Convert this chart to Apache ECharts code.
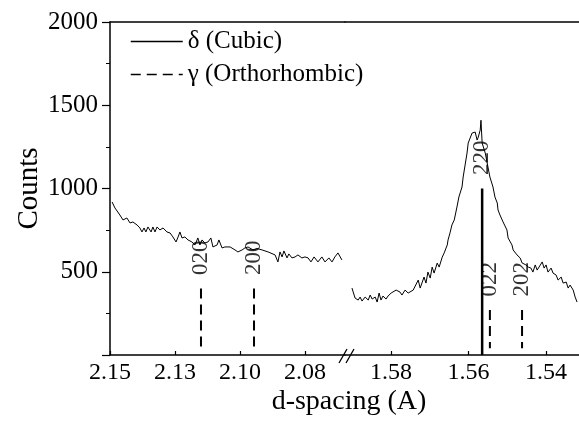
<!DOCTYPE html>
<html>
<head>
<meta charset="utf-8">
<script src="https://cdn.jsdelivr.net/npm/echarts@6/dist/echarts.min.js"></script>
<style>
  html, body { margin: 0; padding: 0; background: #fff; }
  #chart { width: 579px; height: 421px; }
</style>
</head>
<body>
<div id="chart"></div>
<script>
// left part of the broken axis (2.15 .. 2.06)
var leftD = [2.1492, 2.1481, 2.1462, 2.1450, 2.1435, 2.1423, 2.1412, 2.1396, 2.1385, 2.1377,
  2.1369, 2.1362, 2.1354, 2.1342, 2.1335, 2.1327, 2.1319, 2.1308, 2.1296, 2.1281,
  2.1269, 2.1258, 2.1246, 2.1238, 2.1231, 2.1223, 2.1212, 2.1200, 2.1185, 2.1173,
  2.1162, 2.1154, 2.1146, 2.1135, 2.1123, 2.1112, 2.1104, 2.1088, 2.1081, 2.1069,
  2.1058, 2.1046, 2.1038, 2.1019, 2.1008, 2.0992, 2.0981, 2.0969, 2.0950, 2.0935,
  2.0915, 2.0892, 2.0865, 2.0854, 2.0846, 2.0838, 2.0831, 2.0819, 2.0812, 2.0800,
  2.0788, 2.0777, 2.0762, 2.0750, 2.0738, 2.0727, 2.0715, 2.0700, 2.0685, 2.0673,
  2.0658, 2.0646, 2.0635, 2.0623, 2.0608];
var leftCounts = [919, 883, 841, 811, 823, 793, 799, 781, 763, 739,
  763, 739, 769, 739, 769, 739, 769, 751, 763, 739,
  733, 709, 679, 709, 739, 703, 709, 691, 679, 661,
  703, 661, 691, 673, 679, 703, 649, 661, 691, 643,
  649, 649, 649, 631, 619, 631, 643, 649, 631, 640,
  631, 619, 601, 559, 619, 589, 625, 583, 607, 583,
  589, 601, 583, 589, 583, 559, 589, 559, 589, 559,
  583, 559, 589, 613, 571];

// right part of the broken axis (1.59 .. 1.53)
var rightD = [1.5901, 1.5893, 1.5885, 1.5880, 1.5875, 1.5867, 1.5859, 1.5854, 1.5849, 1.5841,
  1.5836, 1.5831, 1.5826, 1.5821, 1.5813, 1.5808, 1.5800, 1.5795, 1.5787, 1.5782,
  1.5777, 1.5772, 1.5764, 1.5756, 1.5751, 1.5743, 1.5738, 1.5730, 1.5725, 1.5720,
  1.5715, 1.5710, 1.5705, 1.5699, 1.5694, 1.5689, 1.5681, 1.5676, 1.5668, 1.5663,
  1.5655, 1.5653, 1.5648, 1.5643, 1.5637, 1.5630, 1.5625, 1.5617, 1.5614, 1.5609,
  1.5604, 1.5601, 1.5596, 1.5591, 1.5583, 1.5578, 1.5575, 1.5570, 1.5568, 1.5565,
  1.5563, 1.5557, 1.5550, 1.5545, 1.5537, 1.5532, 1.5526, 1.5524, 1.5519, 1.5511,
  1.5506, 1.5501, 1.5498, 1.5488, 1.5485, 1.5480, 1.5475, 1.5467, 1.5462, 1.5459,
  1.5452, 1.5446, 1.5439, 1.5434, 1.5428, 1.5423, 1.5418, 1.5410, 1.5405, 1.5400,
  1.5395, 1.5387, 1.5382, 1.5374, 1.5369, 1.5361, 1.5356, 1.5348, 1.5343, 1.5338,
  1.5330, 1.5325, 1.5320];
var rightCounts = [402, 342, 330, 348, 324, 348, 330, 360, 336, 348,
  318, 372, 330, 354, 336, 354, 372, 378, 390, 402,
  378, 360, 390, 372, 378, 390, 378, 450, 402, 390,
  468, 432, 498, 462, 528, 492, 552, 528, 588, 613,
  661, 691, 733, 781, 811, 889, 949, 1009, 1069, 1141,
  1213, 1273, 1303, 1333, 1339, 1291, 1309, 1351, 1410, 1273,
  1279, 1213, 1129, 1069, 1009, 949, 913, 871, 841, 799,
  775, 751, 703, 661, 631, 643, 601, 583, 553, 559,
  541, 528, 522, 498, 541, 510, 498, 559, 522, 541,
  498, 522, 492, 480, 450, 468, 432, 438, 402, 420,
  390, 348, 318];

// reference reflections
var cubicHkl = ['220'];
var cubicD = [1.5565];
var cubicTop = [1000];
var orthoHkl = ['020', '200', '022', '202'];
var orthoD = [2.115, 2.0946, 1.5545, 1.5462];
var orthoTop = [400, 400, 270, 270];

// axes
var leftTicks = [2.15, 2.125, 2.10, 2.075];
var leftTickLabels = ['2.15', '2.13', '2.10', '2.08'];
var rightTicks = [1.58, 1.56, 1.54];
var yTicks = [500, 1000, 1500, 2000];

var FONT = 'Liberation Serif';

function zip(xs, ys) {
  return xs.map(function (x, i) { return [x, ys[i]]; });
}

var chart = echarts.init(document.getElementById('chart'));

function bottomAxis(idx, min, max, ticks, fmt) {
  return {
    type: 'value', gridIndex: idx, inverse: true, min: min, max: max,
    position: 'bottom',
    axisLine: { show: true, onZero: false, lineStyle: { color: '#000', width: 1.5 } },
    axisTick: { show: true, inside: true, length: 4, customValues: ticks, lineStyle: { color: '#000', width: 1.2 } },
    axisLabel: { show: true, customValues: ticks, formatter: fmt, margin: 6,
      color: '#000', fontFamily: FONT, fontSize: 24 },
    splitLine: { show: false }
  };
}
function topAxis(idx, min, max) {
  return {
    type: 'value', gridIndex: idx, inverse: true, min: min, max: max,
    position: 'top',
    axisLine: { show: true, onZero: false, lineStyle: { color: '#000', width: 1.5 } },
    axisTick: { show: false }, axisLabel: { show: false }, splitLine: { show: false }
  };
}

var series = [
  { type: 'line', name: 'left', xAxisIndex: 0, yAxisIndex: 0, data: zip(leftD, leftCounts),
    symbol: 'none', lineStyle: { color: '#000', width: 1 }, z: 3 },
  { type: 'line', name: 'right', xAxisIndex: 1, yAxisIndex: 1, data: zip(rightD, rightCounts),
    symbol: 'none', lineStyle: { color: '#000', width: 1 }, z: 3 }
];

cubicD.forEach(function (d, i) {
  series.push({ type: 'line', name: 'δ (Cubic)', xAxisIndex: 1, yAxisIndex: 1,
    data: [[d, cubicTop[i]], [d, 0]], symbol: 'none',
    itemStyle: { color: '#000' },
    lineStyle: { color: '#000', width: 2.5 } });
});
orthoD.forEach(function (d, i) {
  var g = d > 2 ? 0 : 1;
  series.push({ type: 'line', name: 'γ (Orthorhombic)', xAxisIndex: g, yAxisIndex: g,
    data: [[d, orthoTop[i]], [d, 40]], symbol: 'none',
    itemStyle: { color: '#000' },
    lineStyle: { color: '#000', width: 2, type: [10, 6] } });
});

// hkl labels, rotated, sitting above each line
var hkl = cubicHkl.concat(orthoHkl);
var hklD = cubicD.concat(orthoD);
var hklTop = cubicTop.concat(orthoTop);
[0, 1].forEach(function (g) {
  var pts = [];
  hkl.forEach(function (h, i) {
    if ((hklD[i] > 2 ? 0 : 1) === g) pts.push({ name: h, value: [hklD[i], hklTop[i]] });
  });
  series.push({ type: 'scatter', name: 'hkl' + g, xAxisIndex: g, yAxisIndex: g,
    data: pts, symbolSize: 1, itemStyle: { color: 'rgba(0,0,0,0)' }, silent: true,
    label: { show: true, formatter: '{b}', position: 'top', distance: 13, rotate: 90,
      align: 'left', verticalAlign: 'middle',
      color: '#000', fontFamily: FONT, fontSize: 23 } });
});

var option = {
  animation: false,
  backgroundColor: '#fff',
  title: {
    text: 'd-spacing (A)', left: 344, top: 383, textAlign: 'center',
    textStyle: { color: '#000', fontFamily: FONT, fontSize: 28, fontWeight: 'normal' }
  },
  legend: {
    data: ['δ (Cubic)', 'γ (Orthorhombic)'],
    orient: 'vertical', left: 125, top: 23,
    itemWidth: 52, itemHeight: 12, itemGap: 6,
    itemStyle: { opacity: 0 },
    lineStyle: { width: 1.5 },
    textStyle: { color: '#000', fontFamily: FONT, fontSize: 25, lineHeight: 27 }
  },
  grid: [
    { left: 110, top: 22, width: 235, bottom: 66 },
    { left: 345, top: 22, right: 0, bottom: 66 }
  ],
  xAxis: [
    bottomAxis(0, 2.0596, 2.15, leftTicks, function (v) {
      var k = leftTicks.indexOf(v);
      return k >= 0 ? leftTickLabels[k] : '';
    }),
    bottomAxis(1, 1.5315, 1.5919, rightTicks, function (v) { return v.toFixed(2); }),
    topAxis(0, 2.0596, 2.15),
    topAxis(1, 1.5315, 1.5919)
  ],
  yAxis: [
    { type: 'value', gridIndex: 0, min: 0, max: 2000, interval: 500,
      name: 'Counts', nameLocation: 'middle', nameGap: 66, nameRotate: 90,
      nameTextStyle: { color: '#000', fontFamily: FONT, fontSize: 29 },
      axisLine: { show: true, lineStyle: { color: '#000', width: 1.5 } },
      axisTick: { show: true, length: 8, lineStyle: { color: '#000', width: 1.2 } },
      minorTick: { show: true, splitNumber: 2, length: 4, lineStyle: { color: '#000', width: 1 } },
      axisLabel: { customValues: yTicks, margin: 12, formatter: function (v) { return String(v); },
        color: '#000', fontFamily: FONT, fontSize: 25 },
      splitLine: { show: false } },
    { type: 'value', gridIndex: 1, min: 0, max: 2000, interval: 500, show: false }
  ],
  graphic: [
    { type: 'line', shape: { x1: 339, y1: 363, x2: 347, y2: 349 }, style: { stroke: '#000', lineWidth: 1.3 } },
    { type: 'line', shape: { x1: 346, y1: 363, x2: 354, y2: 349 }, style: { stroke: '#000', lineWidth: 1.3 } }
  ],
  series: series
};

chart.setOption(option);
</script>
</body>
</html>
